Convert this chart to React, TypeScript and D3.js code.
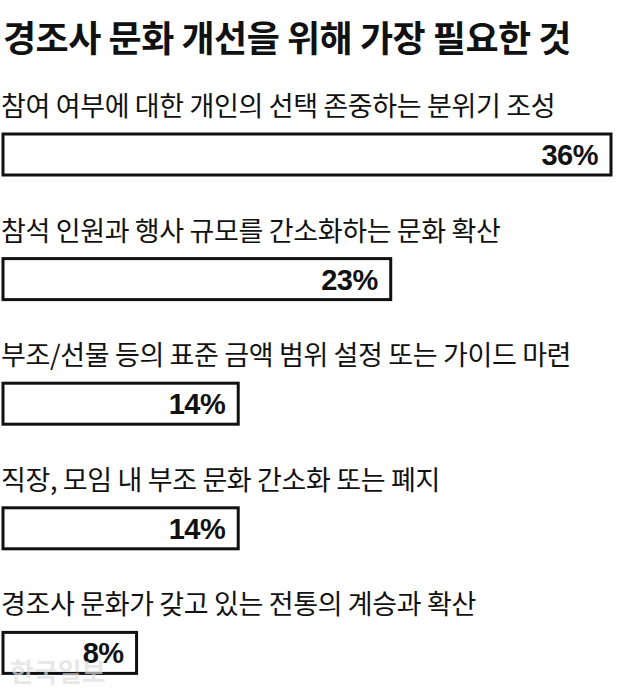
import * as d3 from 'd3';
import { useEffect, useRef } from 'react';

const title = '경조사 문화 개선을 위해 가장 필요한 것';

const categories = [
  '참여 여부에 대한 개인의 선택 존중하는 분위기 조성',
  '참석 인원과 행사 규모를 간소화하는 문화 확산',
  '부조/선물 등의 표준 금액 범위 설정 또는 가이드 마련',
  '직장, 모임 내 부조 문화 간소화 또는 폐지',
  '경조사 문화가 갖고 있는 전통의 계승과 확산',
];

const values = [36, 23, 14, 14, 8];

const source = '한국일보';

const App = () => {
  const svgRef = useRef<SVGSVGElement>(null);

  useEffect(() => {
    document.body.style.margin = '0';
    if (!svgRef.current) return;

    const width = 640;
    const height = 693;
    const font = '"Noto Sans CJK KR", "Noto Sans", sans-serif';

    const svg = d3.select(svgRef.current)
      .attr('width', width)
      .attr('height', height)
      .style('display', 'block')
      .style('background', '#fff');
    svg.selectAll('*').remove();

    const x = d3.scaleLinear().domain([0, 36]).range([0, 610]);
    const y = d3.scaleBand<number>()
      .domain(d3.range(categories.length))
      .range([70, 693])
      .paddingInner(0);

    svg.append('text')
      .attr('x', 3)
      .attr('y', 52)
      .attr('font-family', font)
      .attr('font-weight', 700)
      .attr('font-size', 36)
      .attr('letter-spacing', -0.5)
      .attr('fill', '#111')
      .text(title);

    const row = svg.selectAll('g.row')
      .data(categories)
      .enter()
      .append('g')
      .attr('class', 'row')
      .attr('transform', (_, i) => `translate(0,${y(i) ?? 0})`);

    // Category labels
    row.append('text')
      .attr('x', 1)
      .attr('y', 46)
      .attr('font-family', font)
      .attr('font-size', 27)
      .attr('letter-spacing', -0.35)
      .attr('fill', '#111')
      .text((d) => d);

    // Outlined bars
    row.append('rect')
      .attr('x', 3)
      .attr('y', 64)
      .attr('width', (_, i) => x(values[i]) - 2)
      .attr('height', 41)
      .attr('fill', '#fff')
      .attr('stroke', '#111')
      .attr('stroke-width', 3);

    row.append('text')
      .attr('x', (_, i) => x(values[i]) - 12)
      .attr('y', 95)
      .attr('text-anchor', 'end')
      .attr('font-family', '"Liberation Sans", Arial, sans-serif')
      .attr('font-weight', 700)
      .attr('font-size', 29)
      .attr('letter-spacing', -0.5)
      .attr('fill', '#111')
      .text((_, i) => `${values[i]}%`);

    // watermark
    svg.append('text')
      .attr('x', 10)
      .attr('y', 682)
      .attr('font-family', font)
      .attr('font-weight', 700)
      .attr('font-size', 26)
      .attr('fill', '#ddd')
      .attr('fill-opacity', 0.7)
      .text(source);
  }, []);

  return <svg ref={svgRef} />;
};

export default App;
